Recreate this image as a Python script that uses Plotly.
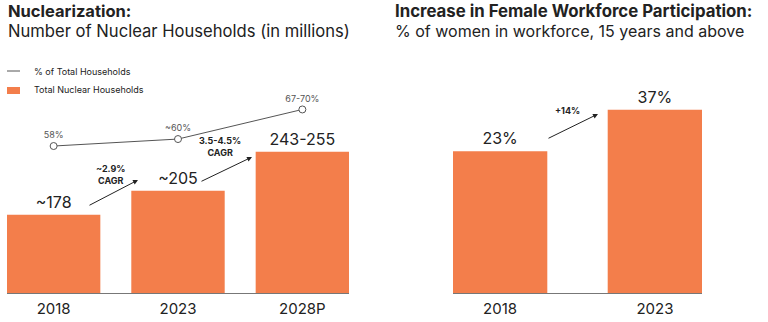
import plotly.graph_objects as go

# ---- data ----
hh_years = ["2018", "2023", "2028P"]
hh_total = [178, 205, 249]            # nuclear households, millions (2028P midpoint of 243-255)
hh_total_labels = ["~178", "~205", "243-255"]
hh_share = [58, 60, 68.5]             # % of total households (2028P midpoint of 67-70%)
hh_share_labels = ["58%", "~60%", "67-70%"]
cagr_labels = ["~2.9%<br>CAGR", "3.5-4.5%<br>CAGR"]

fw_years = ["2018", "2023"]
fw_share = [23, 37]                   # % of women in workforce, 15+
fw_share_labels = ["23%", "37%"]
fw_change_label = "+14%"

# ---- styling ----
W, H = 768, 322
ORANGE = "#F37E4B"
TEXT = "#222222"
GREY = "#555555"
FONT = "Inter"


def px(x):
    return x / W


def py(y):
    return 1 - y / H


PLOT_TOP, PLOT_BOTTOM = 60, 293
ydom = [py(PLOT_BOTTOM), py(PLOT_TOP)]
FW_BASE = -24.8  # bottom of the right value axis

fig = go.Figure()

fig.add_trace(go.Bar(
    x=hh_years, y=hh_total, marker_color=ORANGE, marker_line_width=0,
    text=hh_total_labels, textposition="outside", cliponaxis=False,
    constraintext="none", textfont=dict(size=16, color=TEXT, family=FONT),
    name="Total Nuclear Households", xaxis="x", yaxis="y",
))
fig.add_trace(go.Scatter(
    x=hh_years, y=hh_share, mode="lines+markers+text",
    line=dict(color=GREY, width=1),
    marker=dict(size=7, color="white", line=dict(color=GREY, width=1)),
    text=hh_share_labels, textposition="top center", cliponaxis=False,
    textfont=dict(size=9, color=GREY, family=FONT),
    name="% of Total Households", xaxis="x", yaxis="y2",
))
fig.add_trace(go.Bar(
    x=fw_years, y=[v - FW_BASE for v in fw_share], base=FW_BASE,
    customdata=fw_share, hovertemplate="%{x}: %{customdata}%<extra></extra>",
    marker_color=ORANGE, marker_line_width=0,
    text=fw_share_labels, textposition="outside", cliponaxis=False,
    constraintext="none", textfont=dict(size=16, color=TEXT, family=FONT),
    name="Female workforce participation", xaxis="x2", yaxis="y3",
))

axis_common = dict(showline=True, linecolor="#777777", linewidth=1, ticks="",
                   showgrid=False, zeroline=False, ticklabelstandoff=2,
                   tickfont=dict(size=15, color=TEXT, family=FONT))

fig.update_layout(
    width=W, height=H, margin=dict(l=0, r=0, t=0, b=0),
    paper_bgcolor="white", plot_bgcolor="white", showlegend=False,
    font=dict(family=FONT, color=TEXT),
    xaxis=dict(domain=[px(7), px(349)], range=[-0.375, 2.375], anchor="y", **axis_common),
    yaxis=dict(domain=ydom, range=[89.5, 352.8], visible=False),
    yaxis2=dict(domain=ydom, range=[15.8, 82.7], overlaying="y", visible=False),
    xaxis2=dict(domain=[px(453), px(702)], range=[-0.304, 1.304], anchor="y3", **axis_common),
    yaxis3=dict(domain=ydom, range=[FW_BASE, 53.8], anchor="x2", visible=False),
)
fig.data[0].update(width=0.751)
fig.data[2].update(width=0.61)

ann = []
# titles
ann.append(dict(x=px(7), y=py(11.5), text="<b>Nuclearization:</b>", font=dict(size=16.5)))
ann.append(dict(x=px(7), y=py(30.5), text="Number of Nuclear Households (in millions)", font=dict(size=16.6)))
ann.append(dict(x=px(394), y=py(11.5), text="<b>Increase in Female Workforce Participation:</b>", font=dict(size=16.8)))
ann.append(dict(x=px(394), y=py(30.5), text="% of women in workforce, 15 years and above", font=dict(size=16)))
# legend
ann.append(dict(x=px(33), y=py(71), text="% of Total Households", font=dict(size=9)))
ann.append(dict(x=px(33), y=py(90), text="Total Nuclear Households", font=dict(size=9)))
for a in ann:
    a.update(xref="paper", yref="paper", xanchor="left", yanchor="middle", showarrow=False,
             borderpad=0)
    a["font"].update(family=FONT, color=TEXT)

# growth arrows and labels
arrows = [((88, 206), (138, 180)), ((200, 182), (252, 157)), ((547, 139), (598, 114))]
for (tx, ty), (hx, hy) in arrows:
    ann.append(dict(x=px(hx), y=py(hy), xref="paper", yref="paper",
                    ax=tx - hx, ay=ty - hy, axref="pixel", ayref="pixel",
                    text="", showarrow=True, arrowhead=2, arrowsize=1,
                    arrowwidth=1, arrowcolor=TEXT))
growth = [(110, 174.5, cagr_labels[0]), (220, 146, cagr_labels[1]), (567, 110, fw_change_label)]
for gx, gy, t in growth:
    ann.append(dict(x=px(gx), y=py(gy), xref="paper", yref="paper", showarrow=False,
                    text="<b>" + t + "</b>", xanchor="center", yanchor="middle",
                    font=dict(size=9, color=TEXT, family=FONT)))

fig.update_layout(
    annotations=ann,
    shapes=[
        dict(type="line", xref="paper", yref="paper", x0=px(7), x1=px(20), y0=py(71), y1=py(71),
             line=dict(color=GREY, width=1)),
        dict(type="rect", xref="paper", yref="paper", x0=px(7), x1=px(20), y0=py(87), y1=py(94),
             fillcolor=ORANGE, line=dict(width=0)),
    ],
)

fig.write_html("out.html")
